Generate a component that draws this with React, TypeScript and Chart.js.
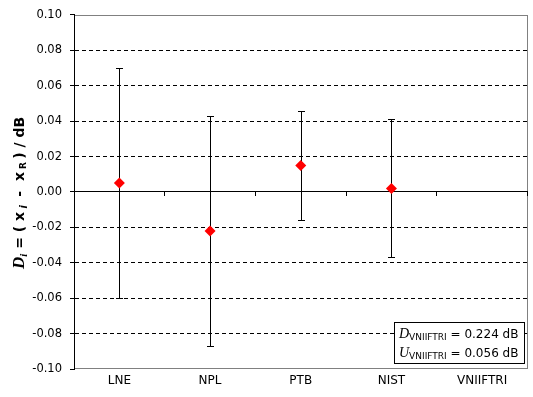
import React, { useEffect, useRef } from 'react';
import { Chart, registerables } from 'chart.js';

Chart.register(...registerables);

// ---- data ----
const categories: string[] = ['LNE', 'NPL', 'PTB', 'NIST', 'VNIIFTRI'];
const degreesOfEquivalence: (number | null)[] = [0.005, -0.022, 0.015, 0.002, null];
const expandedUncertainties: (number | null)[] = [0.065, 0.065, 0.031, 0.039, null];
const yMin = -0.1;
const yMax = 0.1;
const yStep = 0.02;
const noteSymbols: string[] = ['D', 'U'];
const noteSubscripts: string[] = ['VNIIFTRI', 'VNIIFTRI'];
const noteValues: string[] = [' = 0.224 dB', ' = 0.056 dB'];

const SANS = '"DejaVu Sans", Verdana, sans-serif';
const SERIF = '"Liberation Serif", "Times New Roman", serif';

const plotBorderPlugin = {
  id: 'plotBorder',
  beforeDraw(chart: any) {
    const { ctx, chartArea: a } = chart;
    ctx.save();
    ctx.strokeStyle = '#808080';
    ctx.lineWidth = 1;
    ctx.strokeRect(Math.round(a.left) + 0.5, Math.round(a.top) + 0.5, Math.round(a.right - a.left) - 1, Math.round(a.bottom - a.top) - 1);
    ctx.restore();
  },
};

const errorBarPlugin = {
  id: 'errorBars',
  beforeDatasetsDraw(chart: any) {
    const { ctx } = chart;
    const xs = chart.scales.x;
    const ys = chart.scales.y;
    ctx.save();
    ctx.strokeStyle = '#000';
    ctx.lineWidth = 1;
    categories.forEach((_, i) => {
      const d = degreesOfEquivalence[i];
      const u = expandedUncertainties[i];
      if (d === null || u === null) return;
      const x = Math.round(xs.getPixelForValue(i)) + 0.5;
      const yt = Math.round(ys.getPixelForValue(d + u)) + 0.5;
      const yb = Math.round(ys.getPixelForValue(d - u)) + 0.5;
      ctx.beginPath();
      ctx.moveTo(x, yt);
      ctx.lineTo(x, yb);
      ctx.moveTo(x - 3.5, yt);
      ctx.lineTo(x + 3.5, yt);
      ctx.moveTo(x - 3.5, yb);
      ctx.lineTo(x + 3.5, yb);
      ctx.stroke();
    });
    ctx.restore();
  },
};

type Seg = { t: string; font: string; dy: number };

function drawSegs(ctx: CanvasRenderingContext2D, segs: Seg[], x: number, y: number) {
  let cx = x;
  segs.forEach((s) => {
    ctx.font = s.font;
    ctx.fillText(s.t, cx, y + s.dy);
    cx += ctx.measureText(s.t).width;
  });
  return cx - x;
}
function measureSegs(ctx: CanvasRenderingContext2D, segs: Seg[]) {
  let w = 0;
  segs.forEach((s) => {
    ctx.font = s.font;
    w += ctx.measureText(s.t).width;
  });
  return w;
}

const textPlugin = {
  id: 'texts',
  afterDraw(chart: any) {
    const { ctx, chartArea: a } = chart;
    ctx.save();
    ctx.fillStyle = '#000';
    ctx.textBaseline = 'alphabetic';
    ctx.textAlign = 'left';

    // y-axis title
    const bold = `bold 14px ${SANS}`;
    const titleSegs: Seg[] = [
      { t: 'D', font: `bold italic 17px ${SERIF}`, dy: 0 },
      { t: 'i', font: `bold italic 11px ${SERIF}`, dy: 3 },
      { t: ' = ( x', font: bold, dy: 0 },
      { t: ' i ', font: `bold italic 10px ${SANS}`, dy: 3 },
      { t: ' -  x', font: bold, dy: 0 },
      { t: ' R ', font: `bold 9px ${SANS}`, dy: 2 },
      { t: ') / dB', font: bold, dy: 0 },
    ];
    ctx.save();
    ctx.translate(24, (a.top + a.bottom) / 2 + 1);
    ctx.rotate(-Math.PI / 2);
    const tw = measureSegs(ctx, titleSegs);
    drawSegs(ctx, titleSegs, -tw / 2, 0);
    ctx.restore();

    // note box
    const lines: Seg[][] = noteSymbols.map((sym, i) => [
      { t: sym, font: `italic 14px ${SERIF}`, dy: 0 },
      { t: noteSubscripts[i], font: `9px ${SANS}`, dy: 2 },
      { t: noteValues[i], font: `12px ${SANS}`, dy: 0 },
    ]);
    const w = Math.max(...lines.map((l) => measureSegs(ctx, l)));
    const boxW = Math.round(w + 12);
    const boxH = 42;
    const right = Math.round(a.right) - 3;
    const bottom = Math.round(a.bottom) - 5;
    const left = right - boxW;
    const top = bottom - boxH;
    ctx.fillStyle = '#fff';
    ctx.fillRect(left, top, boxW, boxH);
    ctx.strokeStyle = '#000';
    ctx.lineWidth = 1;
    ctx.strokeRect(left + 0.5, top + 0.5, boxW - 1, boxH - 1);
    ctx.fillStyle = '#000';
    drawSegs(ctx, lines[0], left + 5, top + 16);
    drawSegs(ctx, lines[1], left + 5, top + 35);
    ctx.restore();
  },
};

export default function App() {
  const ref = useRef<HTMLCanvasElement | null>(null);
  useEffect(() => {
    document.body.style.margin = '0';
    const canvas = ref.current;
    if (!canvas) return;
    const chart = new Chart(canvas, {
      type: 'line',
      data: {
        labels: categories,
        datasets: [
          {
            data: degreesOfEquivalence,
            showLine: false,
            pointStyle: 'rectRot',
            pointRadius: 5.5,
            pointHoverRadius: 5.5,
            backgroundColor: '#ff0000',
            borderColor: '#ff0000',
            borderWidth: 0,
          },
        ],
      },
      options: {
        animation: false,
        responsive: true,
        maintainAspectRatio: false,
        events: [],
        layout: { padding: { top: 14, right: 3, bottom: 0, left: 0 } },
        plugins: { legend: { display: false }, tooltip: { enabled: false }, title: { display: false } },
        scales: {
          x: {
            type: 'category',
            position: 'bottom',
            offset: true,
            grid: { display: false, drawOnChartArea: false, drawTicks: false },
            border: { display: false },
            ticks: { color: '#000', font: { family: SANS, size: 12 }, padding: 5, maxRotation: 0, autoSkip: false },
            afterFit(scale: any) {
              scale.height = 28;
            },
          },
          x2: {
            type: 'category',
            axis: 'x',
            labels: categories,
            position: { y: 0 },
            offset: true,
            grid: { offset: true, drawOnChartArea: false, drawTicks: true, tickLength: 4, color: '#000', tickColor: '#000' },
            border: { display: true, color: '#000', width: 1 },
            ticks: { display: false },
          },
          y: {
            type: 'linear',
            position: 'left',
            min: yMin,
            max: yMax,
            ticks: {
              stepSize: yStep,
              color: '#000',
              font: { family: SANS, size: 11.5 },
              padding: 8,
              callback: (v: any) => Number(v).toFixed(2),
            },
            grid: {
              color: (c: any) => {
                const v = c.tick ? c.tick.value : 0;
                if (Math.abs(v - yMin) < 1e-9 || Math.abs(v - yMax) < 1e-9 || Math.abs(v) < 1e-9) return 'rgba(0,0,0,0)';
                return '#000';
              },
              tickColor: '#000',
              tickLength: 4,
              lineWidth: 1,
              drawTicks: true,
            },
            border: { display: true, color: '#000', width: 1, dash: [4, 3] },
            afterFit(scale: any) {
              scale.width = 74;
            },
          },
        },
      },
      plugins: [plotBorderPlugin, errorBarPlugin, textPlugin],
    } as any);
    return () => chart.destroy();
  }, []);
  return (
    <div style={{ position: 'relative', width: 533, height: 397 }}>
      <canvas ref={ref} />
    </div>
  );
}
